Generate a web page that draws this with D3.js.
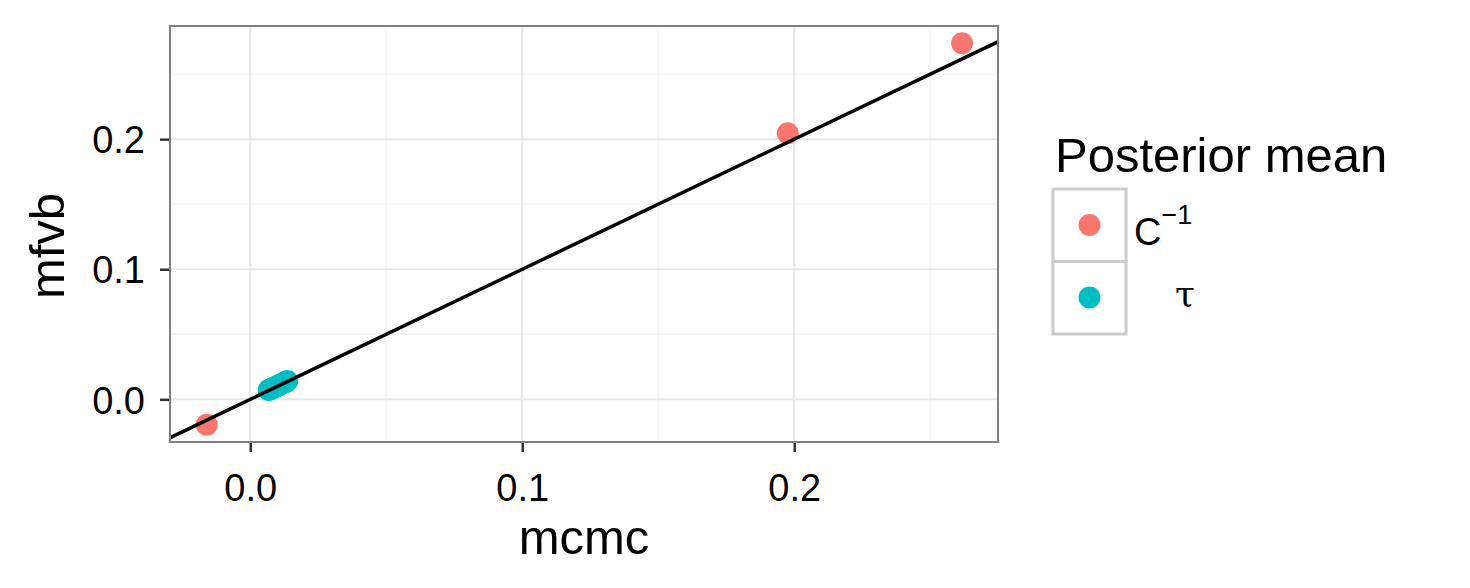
<!DOCTYPE html>
<html>
<head>
<meta charset="utf-8">
<script src="https://cdn.jsdelivr.net/npm/d3@7"></script>
<style>
  body { margin: 0; background: #fff; }
  text { font-family: "Liberation Sans", Arial, sans-serif; }
</style>
</head>
<body>
<div id="chart"></div>
<script>
// posterior means, mcmc vs mfvb
var cinvMcmc = [-0.0160, 0.1976, 0.2617];
var cinvMfvb = [-0.0195, 0.2046, 0.2738];
var tauMcmc = [0.0068, 0.0078, 0.0088, 0.0098, 0.0108, 0.0118, 0.0128, 0.0136];
var tauMfvb = [0.0072, 0.0082, 0.0091, 0.0101, 0.0111, 0.0121, 0.0131, 0.0140];
var xTicks = [0.0, 0.1, 0.2];
var yTicks = [0.0, 0.1, 0.2];
var xMinor = [0.05, 0.15, 0.25];
var yMinor = [0.05, 0.15, 0.25];
var groups = ["C", "tau"];
var colors = ["#F8766D", "#00BFC4"];

var width = 1470, height = 588;
var panel = {left: 170, right: 998, top: 26, bottom: 442};

var svg = d3.select("#chart").append("svg")
    .attr("width", width).attr("height", height);

var x = d3.scaleLinear().domain([-0.0295, 0.2749]).range([panel.left, panel.right]);
var y = d3.scaleLinear().domain([-0.0328, 0.287]).range([panel.bottom, panel.top]);

svg.append("clipPath").attr("id", "clip")
  .append("rect").attr("x", panel.left).attr("y", panel.top)
  .attr("width", panel.right - panel.left).attr("height", panel.bottom - panel.top);

var grid = svg.append("g");
// minor grid
grid.selectAll(".xminor").data(xMinor).enter().append("line")
  .attr("x1", d => x(d)).attr("x2", d => x(d))
  .attr("y1", panel.top).attr("y2", panel.bottom)
  .attr("stroke", "#f4f4f4").attr("stroke-width", 1.5);
grid.selectAll(".yminor").data(yMinor).enter().append("line")
  .attr("y1", d => y(d)).attr("y2", d => y(d))
  .attr("x1", panel.left).attr("x2", panel.right)
  .attr("stroke", "#f4f4f4").attr("stroke-width", 1.5);
// major grid
grid.selectAll(".xmajor").data(xTicks).enter().append("line")
  .attr("x1", d => x(d)).attr("x2", d => x(d))
  .attr("y1", panel.top).attr("y2", panel.bottom)
  .attr("stroke", "#e6e6e6").attr("stroke-width", 2);
grid.selectAll(".ymajor").data(yTicks).enter().append("line")
  .attr("y1", d => y(d)).attr("y2", d => y(d))
  .attr("x1", panel.left).attr("x2", panel.right)
  .attr("stroke", "#e6e6e6").attr("stroke-width", 2);

var plot = svg.append("g").attr("clip-path", "url(#clip)");

plot.selectAll(".cinv").data(cinvMcmc).enter().append("circle")
  .attr("cx", d => x(d)).attr("cy", (d, i) => y(cinvMfvb[i]))
  .attr("r", 11).attr("fill", colors[0]);

plot.selectAll(".tau").data(tauMcmc).enter().append("circle")
  .attr("cx", d => x(d)).attr("cy", (d, i) => y(tauMfvb[i]))
  .attr("r", 11).attr("fill", colors[1]);

// y = x reference line
plot.append("line")
  .attr("x1", x(-0.1)).attr("y1", y(-0.1))
  .attr("x2", x(0.4)).attr("y2", y(0.4))
  .attr("stroke", "black").attr("stroke-width", 3.5);

// panel border
svg.append("rect")
  .attr("x", panel.left).attr("y", panel.top)
  .attr("width", panel.right - panel.left).attr("height", panel.bottom - panel.top)
  .attr("fill", "none").attr("stroke", "#7f7f7f").attr("stroke-width", 2);

var fmt = d3.format(".1f");
var xAxis = svg.append("g").attr("transform", "translate(0," + (panel.bottom + 1) + ")")
  .call(d3.axisBottom(x).tickValues(xTicks).tickFormat(fmt).tickSize(9).tickPadding(22));
var yAxis = svg.append("g").attr("transform", "translate(" + (panel.left - 1) + ",0)")
  .call(d3.axisLeft(y).tickValues(yTicks).tickFormat(fmt).tickSize(9).tickPadding(15));
[xAxis, yAxis].forEach(function(a) {
  a.select(".domain").remove();
  a.selectAll(".tick line").attr("stroke", "#333").attr("stroke-width", 2.5);
  a.selectAll(".tick text").attr("fill", "black")
    .style("font-family", "Liberation Sans, Arial, sans-serif").style("font-size", "38px");
});
xAxis.selectAll(".tick text").attr("dy", "0.72em");
yAxis.selectAll(".tick text").attr("dy", "0.36em");

svg.append("text").attr("x", (panel.left + panel.right) / 2).attr("y", 554)
  .attr("text-anchor", "middle").attr("font-size", "49px").text("mcmc");
svg.append("text")
  .attr("transform", "translate(64," + ((panel.top + panel.bottom) / 2 + 12) + ") rotate(-90)")
  .attr("text-anchor", "middle").attr("font-size", "49px").text("mfvb");

// legend
var legend = svg.append("g");
legend.append("text").attr("x", 1055).attr("y", 172)
  .attr("font-size", "49px").text("Posterior mean");

legend.selectAll(".key").data(groups).enter().append("rect")
  .attr("x", 1053).attr("y", (d, i) => 189 + i * 72.5)
  .attr("width", 73).attr("height", 72.5)
  .attr("fill", "white").attr("stroke", "#cccccc").attr("stroke-width", 3);
legend.selectAll(".keydot").data(groups).enter().append("circle")
  .attr("cx", 1089.5).attr("cy", (d, i) => 225 + i * 72.5)
  .attr("r", 11).attr("fill", (d, i) => colors[i]);

var lab1 = legend.append("text").attr("x", 1134).attr("y", 245).attr("font-size", "38px");
lab1.append("tspan").text("C");
lab1.append("tspan").attr("dy", -21).attr("font-size", "27px").text("\u22121");
legend.append("text").attr("x", 1175).attr("y", 306)
  .attr("font-size", "36px").style("font-family", "DejaVu Serif, Liberation Serif, serif")
  .text("\u03c4");
</script>
</body>
</html>
